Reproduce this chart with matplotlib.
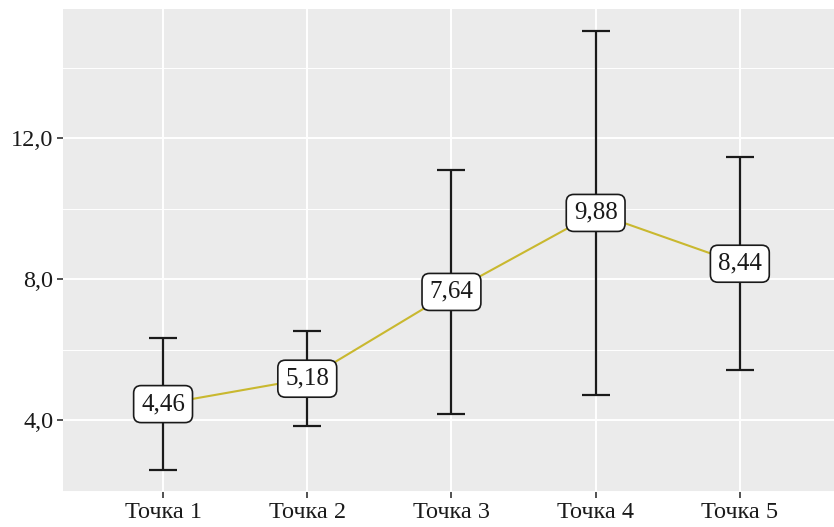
import matplotlib
matplotlib.use("Agg")
import matplotlib.pyplot as plt
from matplotlib.ticker import FixedLocator

categories = ["Точка 1", "Точка 2", "Точка 3", "Точка 4", "Точка 5"]
means = [4.46, 5.18, 7.64, 9.88, 8.44]
errors = [1.87, 1.34, 3.45, 5.16, 3.02]

plt.rcParams['font.family'] = ['Liberation Serif', 'DejaVu Serif']

fig = plt.figure(figsize=(8.34, 5.27), dpi=100)
ax = fig.add_axes([63 / 834, (527 - 492) / 527, (834 - 63) / 834, (492 - 9) / 527])
ax.set_facecolor('#ebebeb')
for s in ax.spines.values():
    s.set_visible(False)

x = list(range(len(categories)))
ax.plot(x, means, color='#c9b82f', lw=1.5, zorder=2)
ax.errorbar(x, means, yerr=errors, fmt='none', ecolor='#1a1a1a', elinewidth=1.6,
            capsize=10, capthick=1.6, zorder=3)
for xi, m in zip(x, means):
    ax.text(xi, m, f"{m:.2f}".replace('.', ','), ha='center', va='center',
            fontsize=18, color='#1a1a1a', zorder=4,
            bbox=dict(boxstyle='round,pad=0.3,rounding_size=0.3', fc='white',
                      ec='#1a1a1a', lw=1.2))

lo = min(m - e for m, e in zip(means, errors))
hi = max(m + e for m, e in zip(means, errors))
pad = (hi - lo) * 0.05
ax.set_ylim(lo - pad, hi + pad)
ax.set_xlim(-0.694, 4.653)

ax.set_xticks(x)
ax.set_xticklabels(categories)
ax.set_yticks([4, 8, 12])
ax.set_yticklabels(["4,0", "8,0", "12,0"])
ax.yaxis.set_minor_locator(FixedLocator([2, 6, 10, 14]))
ax.tick_params(axis='both', which='major', length=4, width=1.2, color='#333333',
               labelsize=17.5, labelcolor='#1a1a1a', pad=3)
ax.tick_params(axis='y', which='minor', length=0)
ax.grid(True, which='major', color='white', lw=1.4)
ax.grid(True, which='minor', axis='y', color='white', lw=0.7)
ax.set_axisbelow(True)

fig.savefig("out.png", dpi=100)
